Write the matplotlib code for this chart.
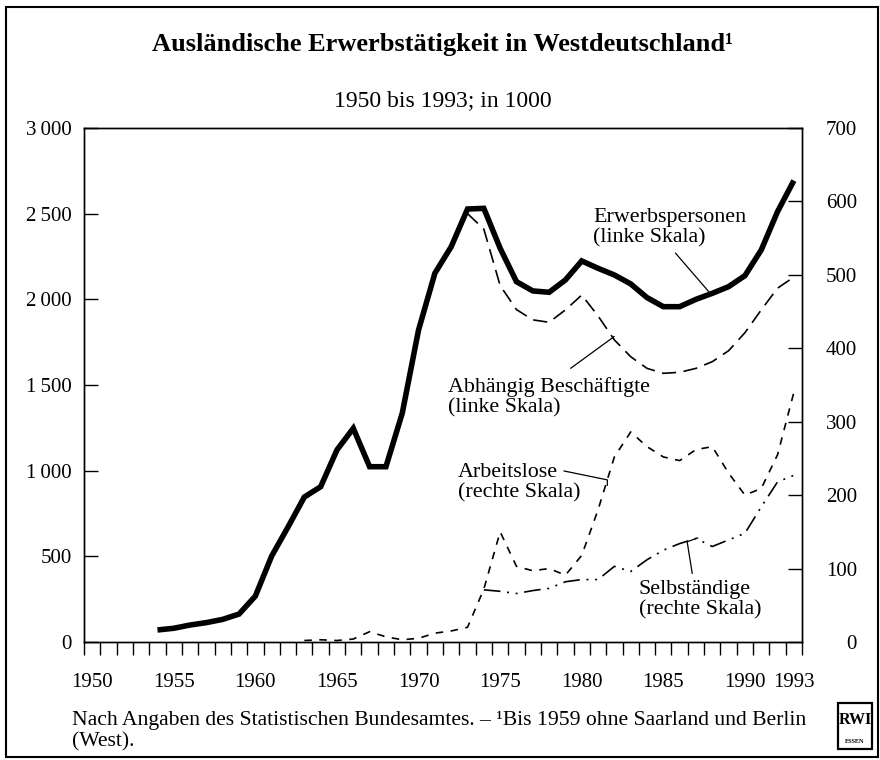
import matplotlib
matplotlib.use("Agg")
import matplotlib.pyplot as plt
from matplotlib.patches import Rectangle
import numpy as np

plt.rcParams['font.family'] = ['Liberation Serif', 'DejaVu Serif']

# ---------------- data (in 1000) ----------------
years_erw = list(range(1954, 1994))
erwerbspersonen = [70, 80, 99, 113, 132, 163, 268, 502, 671, 846,
                   906, 1121, 1247, 1023, 1023, 1335, 1821, 2152, 2307, 2527,
                   2531, 2298, 2103, 2049, 2041, 2113, 2224, 2181, 2142, 2090,
                   2010, 1957, 1957, 2000, 2035, 2074, 2138, 2288, 2512, 2693]

years_abh = list(range(1973, 1994))
abhaengig = [2500, 2410, 2080, 1940, 1880, 1866, 1938, 2025, 1903, 1763,
             1665, 1597, 1568, 1574, 1597, 1636, 1700, 1805, 1938, 2065, 2130]

years_alo = list(range(1963, 1994))
arbeitslose = [2, 3, 2, 4, 14, 7, 3, 5, 12, 15,
               20, 72, 150, 103, 97, 100, 91, 118, 180, 252,
               286, 266, 252, 247, 262, 266, 230, 200, 209, 255, 340]

years_slb = list(range(1974, 1994))
selbstaendige = [71, 69, 66, 70, 73, 82, 85, 85, 103, 96,
                 112, 125, 134, 141, 130, 139, 148, 184, 218, 227]

left_ticks = [0, 500, 1000, 1500, 2000, 2500, 3000]
left_labels = ["0", "500", "1\u2009000", "1\u2009500", "2\u2009000", "2\u2009500", "3\u2009000"]
right_ticks = [0, 100, 200, 300, 400, 500, 600, 700]
right_labels = ["0", "100", "200", "300", "400", "500", "600", "700"]
x_label_years = [1950, 1955, 1960, 1965, 1970, 1975, 1980, 1985, 1990, 1993]

# annual values plotted at mid-year
def mid(yrs):
    return np.array(yrs) + 0.5

fig = plt.figure(figsize=(8.8, 7.6), dpi=100)
ax = fig.add_axes([0.0955, 0.1553, 0.8159, 0.6763])
ax2 = ax.twinx()

ax.plot(mid(years_erw), erwerbspersonen, color='black', lw=4.0,
        solid_joinstyle='miter', solid_capstyle='butt', zorder=5)
ax.plot(mid(years_abh), abhaengig, color='black', lw=1.2,
        dashes=(8.5, 4.5), zorder=4)
ax2.plot(mid(years_alo), arbeitslose, color='black', lw=1.2,
         dashes=(4.5, 4.5))
ax2.plot(mid(years_slb), selbstaendige, color='black', lw=1.2,
         dashes=(10, 4, 1.2, 4, 1.2, 4))

ax.set_xlim(1950, 1994)
ax.set_ylim(0, 3000)
ax2.set_ylim(0, 700)

# x ticks: marks at year boundaries, labels at mid-year
ax.set_xticks(np.arange(1950, 1995), minor=True)
ax.set_xticks(mid(x_label_years))
ax.set_xticklabels([str(y) for y in x_label_years])
ax.tick_params(axis='x', which='minor', direction='out', length=9.5, width=1.0)
ax.tick_params(axis='x', which='major', length=0, pad=22, labelsize=15)

ax.set_yticks(left_ticks)
ax.set_yticklabels(left_labels)
ax.tick_params(axis='y', which='major', direction='in', length=10, width=1.0,
               pad=9, labelsize=15)

ax2.set_yticks(right_ticks)
ax2.set_yticklabels(right_labels)
ax2.tick_params(axis='y', which='major', direction='in', length=10, width=1.0,
                pad=39.5, labelsize=15)
for lab in ax2.get_yticklabels():
    lab.set_ha('right')

for a in (ax, ax2):
    for s in a.spines.values():
        s.set_linewidth(1.0)

# ---------------- annotations ----------------
fs = 15.8
ls = 1.08
ax.text(1981.2, 2420, "Erwerbspersonen\n(linke Skala)", fontsize=fs,
        ha='left', va='center', linespacing=ls)
ax.plot([1986.25, 1988.28], [2269, 2045], color='black', lw=0.9)

ax.text(1972.3, 1430, "Abhängig Beschäftigte\n(linke Skala)", fontsize=fs,
        ha='left', va='center', linespacing=ls)
ax.plot([1979.83, 1982.48], [1598, 1782], color='black', lw=0.9)

ax.text(1972.9, 928, "Arbeitslose\n(rechte Skala)", fontsize=fs,
        ha='left', va='center', linespacing=ls)
ax.plot([1979.42, 1982.07, 1982.07], [998, 946, 915], color='black', lw=0.9)

ax.text(1984.0, 245, "Selbständige\n(rechte Skala)", fontsize=fs,
        ha='left', va='center', linespacing=ls)
ax.plot([1987.27, 1986.96, 1987.6], [401, 585, 607], color='black', lw=0.9)

# ---------------- titles & footnote ----------------
fig.text(0.503, 0.941, "Ausländische Erwerbstätigkeit in Westdeutschland¹",
         ha='center', va='center', fontsize=19, fontweight='bold')
fig.text(0.503, 0.868, "1950 bis 1993; in 1000", ha='center', va='center',
         fontsize=17)
fig.text(0.082, 0.0526,
         "Nach Angaben des Statistischen Bundesamtes. – ¹Bis 1959 ohne Saarland und Berlin",
         ha='left', va='center', fontsize=15.6)
fig.text(0.082, 0.0237, "(West).", ha='left', va='center', fontsize=15.6)

# RWI logo
fig.patches.append(Rectangle((0.952, 0.014), 0.039, 0.061, transform=fig.transFigure,
                             fill=False, lw=1.6, color='black'))
fig.text(0.9715, 0.052, "RWI", ha='center', va='center', fontsize=11.5,
         fontweight='bold')
fig.text(0.9715, 0.024, "ESSEN", ha='center', va='center', fontsize=4.5,
         fontweight='bold')

# outer frame
fig.patches.append(Rectangle((0.0068, 0.004), 0.991, 0.9868, transform=fig.transFigure,
                             fill=False, lw=1.5, color='black'))

fig.savefig("out.png", dpi=100)
